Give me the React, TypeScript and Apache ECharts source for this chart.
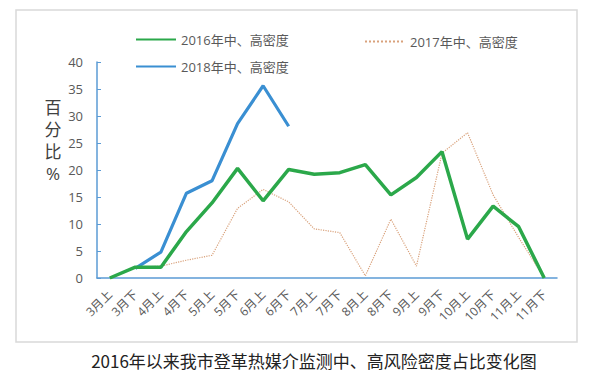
import React, { useEffect, useRef } from "react";
import * as echarts from "echarts";

const categories = ["3月上", "3月下", "4月上", "4月下", "5月上", "5月下", "6月上", "6月下", "7月上", "7月下", "8月上", "8月下", "9月上", "9月下", "10月上", "10月下", "11月上", "11月下"];
const series2016 = [0, 2.0, 2.0, 8.6, 13.9, 20.3, 14.3, 20.1, 19.2, 19.5, 21.0, 15.4, 18.6, 23.4, 7.2, 13.3, 9.5, 0];
const series2017 = [null, 2.0, 2.2, 3.3, 4.2, 12.9, 16.4, 14.1, 9.1, 8.4, 0.4, 10.9, 2.2, 23.1, 26.9, 15.4, 7.5, 0];
const series2018 = [null, 1.8, 4.8, 15.7, 18.0, 28.6, 35.6, 28.1, null, null, null, null, null, null, null, null, null, null];
const names = ["2016年中、高密度", "2017年中、高密度", "2018年中、高密度"];
const yAxisTitle = "百\n分\n比\n%";
const caption = "2016年以来我市登革热媒介监测中、高风险密度占比变化图";

const FONT = "'Open Sans', 'Noto Sans CJK SC', sans-serif";

export default function App() {
  const ref = useRef<HTMLDivElement>(null);
  useEffect(() => {
    const chart = echarts.init(ref.current!, null, { renderer: "svg" });
    const legendBase = {
      itemWidth: 40,
      itemHeight: 14,
      itemGap: 4,
      itemStyle: { opacity: 0 },
      textStyle: { fontSize: 13, color: "#595959", fontFamily: FONT },
    };
    chart.setOption({
      animation: false,
      backgroundColor: "#ffffff",
      textStyle: { fontFamily: FONT },
      grid: { left: 97, right: 43, top: 62, bottom: 102 },
      legend: [
        { ...legendBase, data: [names[0]], left: 130, top: 28 },
        { ...legendBase, data: [names[1]], left: 359, top: 30 },
        { ...legendBase, data: [names[2]], left: 130, top: 55 },
      ],
      xAxis: {
        type: "category",
        data: categories,
        boundaryGap: true,
        axisLine: { lineStyle: { color: "#5b9bd5", width: 1.5 } },
        axisTick: { inside: true, length: 4, lineStyle: { color: "#5b9bd5" } },
        axisLabel: { rotate: 45, fontSize: 12, color: "#595959", margin: 14, interval: 0, fontFamily: FONT },
      },
      yAxis: {
        type: "value",
        min: 0,
        max: 40,
        interval: 5,
        splitLine: { show: false },
        axisLine: { show: true, lineStyle: { color: "#5b9bd5", width: 1.5 } },
        axisTick: { show: true, inside: true, length: 4, lineStyle: { color: "#5b9bd5" } },
        axisLabel: { fontSize: 13, color: "#595959", margin: 14, fontFamily: FONT },
      },
      series: [
        {
          name: names[0],
          type: "line",
          data: series2016,
          symbol: "none",
          z: 3,
          lineStyle: { color: "#2ba84a", width: 3.5 },
          itemStyle: { color: "#2ba84a" },
        },
        {
          name: names[1],
          type: "line",
          data: series2017,
          symbol: "none",
          z: 1,
          lineStyle: { color: "#d9a27c", width: 1.2, type: "dotted" },
          itemStyle: { color: "#d9a27c" },
        },
        {
          name: names[2],
          type: "line",
          data: series2018,
          symbol: "none",
          z: 2,
          lineStyle: { color: "#3a8fd2", width: 3.2 },
          itemStyle: { color: "#3a8fd2" },
        },
      ],
      graphic: [
        {
          type: "rect",
          shape: { x: 16, y: 10, width: 561, height: 332 },
          style: { fill: "none", stroke: "#d9d9d9", lineWidth: 1.5 },
          z: -1,
        },
        {
          type: "text",
          x: 53,
          y: 140,
          style: {
            text: yAxisTitle,
            fontSize: 17,
            lineHeight: 22,
            fill: "#404040",
            align: "center",
            verticalAlign: "middle",
            fontFamily: FONT,
          },
        },
        {
          type: "text",
          x: 314,
          y: 360,
          style: {
            text: caption,
            fontSize: 17,
            fill: "#222222",
            align: "center",
            verticalAlign: "middle",
            fontFamily: "'Noto Sans CJK SC', 'DejaVu Serif', serif",
          },
        },
      ],
    });
    return () => chart.dispose();
  }, []);
  return <div ref={ref} style={{ width: 600, height: 380, position: "absolute", left: 0, top: 0 }} />;
}
